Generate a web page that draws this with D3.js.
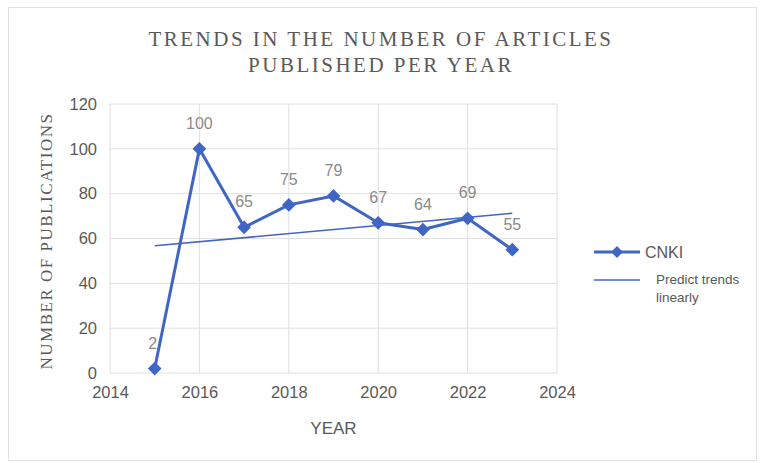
<!DOCTYPE html>
<html>
<head>
<meta charset="utf-8">
<script src="https://cdn.jsdelivr.net/npm/d3@7"></script>
<style>
  body { margin: 0; background: #fff; }
  svg text { fill: #595959; }
</style>
</head>
<body>
<div id="chart"></div>
<script>
// values
const years = [2015, 2016, 2017, 2018, 2019, 2020, 2021, 2022, 2023];
const counts = [2, 100, 65, 75, 79, 67, 64, 69, 55];
const xTicks = [2014, 2016, 2018, 2020, 2022, 2024];
const yTicks = [0, 20, 40, 60, 80, 100, 120];
const titleLines = ["TRENDS IN THE NUMBER OF ARTICLES", "PUBLISHED PER YEAR"];

const width = 761, height = 463;
const plot = {left: 110, right: 557, top: 104, bottom: 373};
const blue = "#4066c4";
const sans = "'Liberation Sans', Arial, sans-serif";

let svg = d3.select("#chart").append("svg")
    .attr("width", width)
    .attr("height", height);

// outer frame
svg.append("rect")
    .attr("x", 8.5).attr("y", 7.5)
    .attr("width", 748).attr("height", 453)
    .attr("fill", "#fff")
    .attr("stroke", "#e2e2e2");

let xScale = d3.scaleLinear().domain([2014, 2024]).range([plot.left, plot.right]);
let yScale = d3.scaleLinear().domain([0, 120]).range([plot.bottom, plot.top]);

// grid
let grid = svg.append("g");
grid.selectAll("line.h").data(yTicks).enter().append("line")
    .attr("x1", xScale(2014)).attr("x2", xScale(2024))
    .attr("y1", d => yScale(d)).attr("y2", d => yScale(d))
    .attr("stroke", "#e0e0e0").attr("stroke-width", 1);
grid.selectAll("line.v").data(xTicks).enter().append("line")
    .attr("x1", d => xScale(d)).attr("x2", d => xScale(d))
    .attr("y1", yScale(0)).attr("y2", yScale(120))
    .attr("stroke", "#e0e0e0").attr("stroke-width", 1);

// axes (labels only)
let xAxis = svg.append("g")
    .attr("transform", "translate(0," + (yScale(0) + 10) + ")")
    .call(d3.axisBottom(xScale).tickValues(xTicks).tickFormat(d3.format("d")).tickSize(0));
let yAxis = svg.append("g")
    .attr("transform", "translate(" + (xScale(2014) - 10) + ",0)")
    .call(d3.axisLeft(yScale).tickValues(yTicks).tickSize(0));
[xAxis, yAxis].forEach(a => {
    a.select(".domain").remove();
    a.selectAll("text")
        .style("font-family", sans)
        .style("font-size", "16.5px")
        .attr("fill", "#595959");
});

// title
svg.append("g").selectAll("text").data(titleLines).enter().append("text")
    .attr("x", 381)
    .attr("y", (d, i) => 46 + i * 26)
    .attr("text-anchor", "middle")
    .style("font-family", "'Liberation Serif', 'Times New Roman', serif")
    .style("font-size", "21px")
    .style("letter-spacing", "2.5px")
    .text(d => d);

// axis titles
svg.append("text")
    .attr("x", xScale(2019))
    .attr("y", 434)
    .attr("text-anchor", "middle")
    .style("font-family", sans)
    .style("font-size", "17px")
    .text("YEAR");

svg.append("text")
    .attr("transform", "translate(52," + 241 + ") rotate(-90)")
    .attr("text-anchor", "middle")
    .style("font-family", "'Liberation Serif', 'Times New Roman', serif")
    .style("font-size", "17px")
    .style("letter-spacing", "1.5px")
    .text("NUMBER OF PUBLICATIONS");

// linear trend (least squares over the series)
let mx = d3.mean(years), my = d3.mean(counts);
let slope = d3.sum(years, (x, i) => (x - mx) * (counts[i] - my)) / d3.sum(years, x => (x - mx) * (x - mx));
let trend = [years[0], years[years.length - 1]].map(x => [x, my + slope * (x - mx)]);

svg.append("path")
    .datum(trend)
    .attr("d", d3.line().x(d => xScale(d[0])).y(d => yScale(d[1])))
    .attr("fill", "none")
    .attr("stroke", blue)
    .attr("stroke-width", 1.6);

// series line
let points = years.map((y, i) => ({year: y, value: counts[i]}));
svg.append("path")
    .datum(points)
    .attr("d", d3.line().x(d => xScale(d.year)).y(d => yScale(d.value)))
    .attr("fill", "none")
    .attr("stroke", blue)
    .attr("stroke-width", 3)
    .attr("stroke-linejoin", "round");

let diamond = d3.symbol().type(d3.symbolDiamond2).size(120);
svg.selectAll("path.marker").data(points).enter().append("path")
    .attr("class", "marker")
    .attr("d", diamond)
    .attr("transform", d => "translate(" + xScale(d.year) + "," + yScale(d.value) + ")")
    .attr("fill", blue);

// data labels
svg.selectAll("text.lbl").data(points).enter().append("text")
    .attr("class", "lbl")
    .attr("x", d => xScale(d.year) - (d.value < 10 ? 2 : 0))
    .attr("y", d => yScale(d.value) - 20)
    .attr("text-anchor", "middle")
    .style("font-family", sans)
    .style("font-size", "16px")
    .style("fill", "#8a8a8a")
    .text(d => d.value);

// legend
let legend = svg.append("g");
legend.append("line")
    .attr("x1", 594).attr("x2", 640).attr("y1", 252).attr("y2", 252)
    .attr("stroke", blue).attr("stroke-width", 3);
legend.append("path")
    .attr("d", d3.symbol().type(d3.symbolDiamond2).size(90))
    .attr("transform", "translate(617,252)")
    .attr("fill", blue);
legend.append("text")
    .attr("x", 645).attr("y", 258)
    .style("font-family", sans)
    .style("font-size", "16px")
    .text("CNKI");
legend.append("line")
    .attr("x1", 594).attr("x2", 640).attr("y1", 280).attr("y2", 280)
    .attr("stroke", blue).attr("stroke-width", 1.6);
legend.append("text")
    .attr("x", 656).attr("y", 284)
    .style("font-family", sans)
    .style("font-size", "13.5px")
    .text("Predict trends");
legend.append("text")
    .attr("x", 656).attr("y", 302)
    .style("font-family", sans)
    .style("font-size", "13.5px")
    .text("linearly");
</script>
</body>
</html>
